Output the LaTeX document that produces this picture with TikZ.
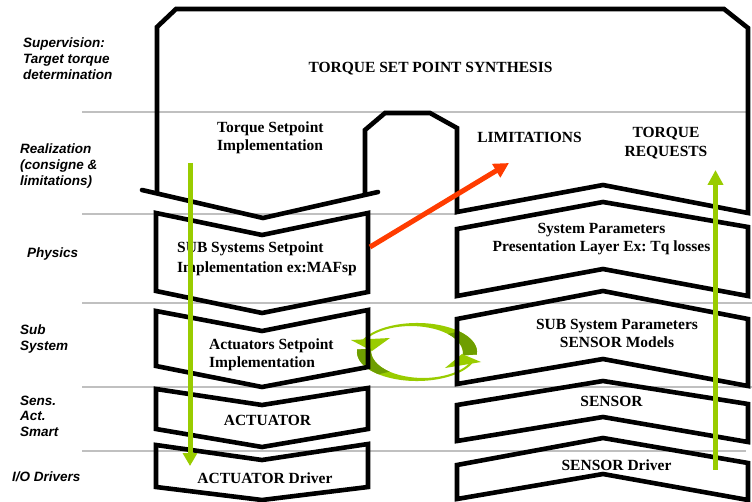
\documentclass[tikz,border=0pt]{standalone}
\usepackage{fontspec}
\setmainfont{Liberation Serif}
\newfontfamily\lblfont{Liberation Sans}
\usetikzlibrary{arrows.meta}
\definecolor{lgreen}{HTML}{99CC00}
\definecolor{dgreen}{HTML}{6E9E00}
\definecolor{rred}{HTML}{FF3C00}
\definecolor{gline}{HTML}{C0C0C0}
\frenchspacing
\begin{document}
\begin{tikzpicture}[x=1bp,y=-1bp,
  outline/.style={draw=black,line width=4.6bp},
  band/.style={draw=gline,line width=2.5bp},
  main/.style={font=\fontsize{15.5bp}{18.3bp}\selectfont\bfseries, inner sep=0pt},
  lbl/.style={font=\lblfont\fontsize{13.5bp}{16bp}\selectfont\bfseries\itshape, inner sep=0pt, align=left, anchor=north west},
  garrow/.style={draw=lgreen,line width=5bp,-{Triangle[width=14bp,length=13bp]}},
  rarrow/.style={draw=rred,line width=5bp,-{Triangle[width=15bp,length=15bp]}}
]
\useasboundingbox (0,0) rectangle (752,502);

% gray bands
\draw[band] (82,112) -- (746,112);
\draw[band] (82,214) -- (457,214);
\draw[band] (82,303) -- (752,303);
\draw[band] (82,387) -- (752,387);
\draw[band] (82,451) -- (746,451);

% cycle arrows
\fill[lgreen] (476.8,354.5) arc[start angle=5,end angle=-160,x radius=60,y radius=29] -- (362.1,343.8) arc[start angle=-160,end angle=5,x radius=52,y radius=27] -- cycle;
\fill[dgreen] (476.8,354.5) arc[start angle=5,end angle=-45,x radius=60,y radius=29] -- (447.8,333.9) arc[start angle=-45,end angle=5,x radius=52,y radius=27] -- cycle;
\fill[lgreen] (351,340) -- (390,338) -- (372,351) -- cycle;
\fill[lgreen] (357.2,349.5) arc[start angle=185,end angle=20,x radius=60,y radius=29] -- (471.9,360.2) arc[start angle=20,end angle=185,x radius=52,y radius=27] -- cycle;
\fill[dgreen] (357.2,349.5) arc[start angle=185,end angle=130,x radius=60,y radius=29] -- (389.6,371.7) arc[start angle=130,end angle=185,x radius=52,y radius=27] -- cycle;
\fill[lgreen] (481,362) -- (462,354) -- (445,368) -- cycle;

% top shape
\draw[outline] (365,195) -- (365,130) -- (385,113) -- (430,113) -- (457,128) -- (457,212)
  -- (603,185) -- (748,213) -- (748,28) -- (724,9) -- (176,9) -- (157,27) -- (157,192);
\draw[outline,line cap=round] (142,190) -- (263,218) -- (378,192);

% left chevrons
\draw[outline] (156,213) -- (262,235) -- (368,213) -- (368,292) -- (262,313) -- (156,291) -- cycle;
\draw[outline] (156,311) -- (262,331) -- (368,310) -- (368,367) -- (262,387) -- (156,366) -- cycle;
\draw[outline] (156,389) -- (262,405) -- (368,388) -- (368,429) -- (262,447) -- (156,429) -- cycle;
\draw[outline] (156,445) -- (262,460) -- (368,444) -- (368,487) -- (262,500) -- (156,487) -- cycle;

% right chevrons
\draw[outline] (457,229) -- (603,202) -- (748,227) -- (748,296) -- (603,269) -- (457,296) -- cycle;
\draw[outline] (457,319) -- (603,291) -- (748,319) -- (748,386) -- (603,359) -- (457,384) -- cycle;
\draw[outline] (457,405) -- (603,381) -- (748,404) -- (748,442) -- (603,417) -- (457,441) -- cycle;
\draw[outline] (457,465) -- (603,438) -- (748,463) -- (748,500) -- (603,474) -- (457,499) -- cycle;

% left labels
\node[lbl] (sup) at (23,38) {Supervision:\\Target torque\\determination};
\node[lbl] (rea) at (20,143.2) {Realization\\(consigne \&\\limitations)};
\node[lbl,anchor=base west] (phy) at (27,258) {Physics};
\node[lbl] (sub) at (20,324.2) {Sub\\System};
\node[lbl,font=\lblfont\fontsize{13.5bp}{15.7bp}\selectfont\bfseries\itshape] (sens) at (20,395.5) {Sens.\\Act.\\Smart};
\node[lbl,anchor=base west] (io) at (12,481) {I/O Drivers};

% main texts
\node[main,anchor=base] (tsp) at (430.5,73) {TORQUE SET POINT SYNTHESIS};
\node[main,align=left,anchor=north west] (tsi) at (217,121.3) {Torque Setpoint\\Implementation};
\node[main,anchor=base] (lim) at (529.5,143) {LIMITATIONS};
\node[main,align=center,anchor=north] (treq) at (666,127.3) {TORQUE\\REQUESTS};
\node[main,align=left,anchor=north west,font=\fontsize{15.5bp}{19.5bp}\selectfont\bfseries] (ssi) at (177,241.8) {SUB Systems Setpoint\\Implementation ex:MAFsp};
\node[main,align=left,anchor=north west] (asi) at (209,338.6) {Actuators Setpoint\\Implementation};
\node[main,anchor=base] (act) at (267.5,425) {ACTUATOR};
\node[main,anchor=base] (actd) at (265,483) {ACTUATOR Driver};
\node[main,align=center,anchor=north,font=\fontsize{15.5bp}{17.5bp}\selectfont\bfseries] (sysp) at (601.5,223.5) {System Parameters\\Presentation Layer Ex: Tq losses};
\node[main,align=center,anchor=north,font=\fontsize{15.5bp}{17.7bp}\selectfont\bfseries] (subp) at (617,319.3) {SUB System Parameters\\SENSOR Models};
\node[main,anchor=base] (sen) at (611.5,406) {SENSOR};
\node[main,anchor=base] (send) at (616.5,470) {SENSOR Driver};

% arrows
\coordinate (gd1) at (190,163);
\coordinate (gd2) at (190,466);
\coordinate (gu1) at (715.5,469.5);
\coordinate (gu2) at (715.5,170);
\coordinate (r1) at (370,247);
\coordinate (r2) at (509,163);
\draw[garrow] (gd1) -- (gd2);
\draw[garrow,-{Triangle[width=15bp,length=15bp]}] (gu1) -- (gu2);
\draw[rarrow] (r1) -- (r2);
\end{tikzpicture}
\end{document}
